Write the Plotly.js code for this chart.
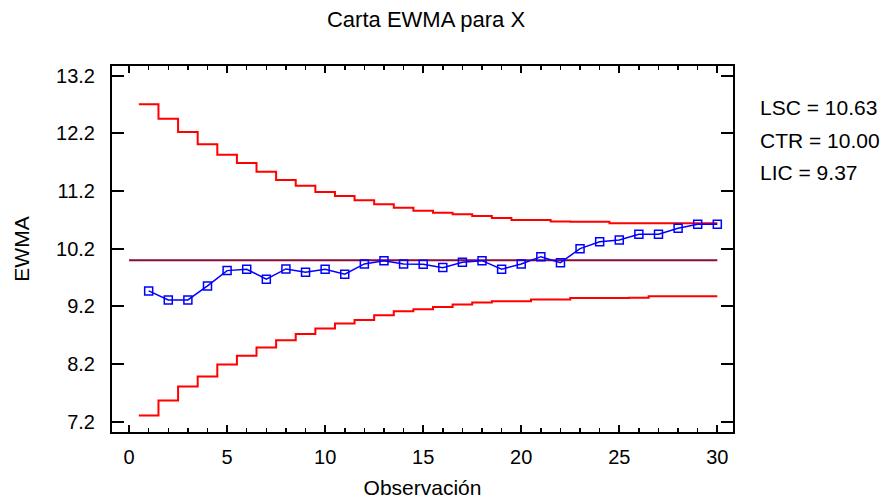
<!DOCTYPE html>
<html>
<head>
<meta charset="utf-8">
<script src="https://cdn.plot.ly/plotly-3.0.1.min.js"></script>
<style>
  html, body { margin: 0; padding: 0; background: #ffffff; }
  #chart { width: 885px; height: 499px; }
</style>
</head>
<body>
<div id="chart"></div>
<script>
// Observation numbers
const observations = [1,2,3,4,5,6,7,8,9,10,11,12,13,14,15,16,17,18,19,20,21,22,23,24,25,26,27,28,29,30];
// EWMA statistic for each observation
const ewmaValues = [9.468, 9.312, 9.312, 9.555, 9.820, 9.844, 9.671, 9.849, 9.792, 9.844,
                    9.757, 9.936, 9.993, 9.936, 9.931, 9.872, 9.965, 9.993, 9.844, 9.936,
                    10.062, 9.958, 10.201, 10.320, 10.350, 10.450, 10.450, 10.555, 10.624, 10.624];
// Upper control limit (LSC) for each observation
const uclValues = [12.705, 12.455, 12.225, 12.011, 11.831, 11.687, 11.536, 11.392, 11.294, 11.184,
                   11.115, 11.040, 10.971, 10.910, 10.860, 10.825, 10.798, 10.768, 10.733, 10.700,
                   10.698, 10.670, 10.668, 10.666, 10.643, 10.642, 10.641, 10.640, 10.640, 10.640];
// Lower control limit (LIC) for each observation
const lclValues = [7.305, 7.565, 7.808, 7.982, 8.190, 8.341, 8.484, 8.613, 8.722, 8.814,
                   8.901, 8.965, 9.046, 9.116, 9.150, 9.190, 9.230, 9.265, 9.289, 9.290,
                   9.317, 9.318, 9.346, 9.347, 9.347, 9.348, 9.376, 9.377, 9.377, 9.377];
// Centre line
const centerValue = 10.00;
const centerStart = 0;
// Text shown at the right of the chart
const limitLabels = ['LSC = 10.63', 'CTR = 10.00', 'LIC = 9.37'];
const yTickValues = [7.2, 8.2, 9.2, 10.2, 11.2, 12.2, 13.2];
const xTickValues = [0, 5, 10, 15, 20, 25, 30];

// step edges: each limit holds from obs-0.5 to obs+0.5, last one ends at the last observation
const lastObs = observations[observations.length - 1];
const stepX = observations.map(o => o - 0.5).concat([lastObs]);
const stepUcl = uclValues.concat([uclValues[uclValues.length - 1]]);
const stepLcl = lclValues.concat([lclValues[lclValues.length - 1]]);

const FONT = 'Liberation Sans, Arial, sans-serif';

const traces = [
  { x: stepX, y: stepUcl, type: 'scatter', mode: 'lines', line: { color: '#ff0000', width: 2, shape: 'hv' }, hoverinfo: 'skip' },
  { x: stepX, y: stepLcl, type: 'scatter', mode: 'lines', line: { color: '#ff0000', width: 2, shape: 'hv' }, hoverinfo: 'skip' },
  { x: [centerStart, lastObs], y: [centerValue, centerValue], type: 'scatter', mode: 'lines', line: { color: '#8b0a3c', width: 2 }, hoverinfo: 'skip' },
  { x: observations, y: ewmaValues, type: 'scatter', mode: 'lines+markers',
    line: { color: '#0000ff', width: 1.5 },
    marker: { symbol: 'square-open', size: 8, color: '#0000ff', line: { width: 1.5, color: '#0000ff' } } }
];

const labelY = [0.8876, 0.7967, 0.710];
const annotations = limitLabels.map((t, i) => ({
  text: t, xref: 'paper', yref: 'paper', x: 1.040, y: labelY[i],
  xanchor: 'left', yanchor: 'middle', showarrow: false,
  font: { family: FONT, size: 21, color: '#000000' }
}));

const layout = {
  width: 885, height: 499,
  margin: { l: 112, r: 152, t: 66, b: 67 },
  paper_bgcolor: '#ffffff', plot_bgcolor: '#ffffff',
  showlegend: false,
  font: { family: FONT, color: '#000000' },
  title: { text: 'Carta EWMA para X', x: 0.4814, xref: 'container', y: 0.962, yref: 'container', yanchor: 'middle',
           font: { family: FONT, size: 22, color: '#000000' } },
  xaxis: {
    range: [-0.87, 30.8], tickvals: xTickValues, ticks: 'inside', ticklen: 7, tickwidth: 2,
    minor: { dtick: 1, ticks: 'inside', ticklen: 4, tickwidth: 1.5, tickcolor: '#000000' },
    showline: true, linecolor: '#000000', linewidth: 2, mirror: 'ticks',
    showgrid: false, zeroline: false, tickcolor: '#000000',
    ticklabelstandoff: 6,
    tickfont: { family: FONT, size: 20 },
    title: { text: 'Observación', font: { family: FONT, size: 21 }, standoff: 14 }
  },
  yaxis: {
    range: [7.02, 13.37], tickvals: yTickValues, ticktext: yTickValues.map(v => v.toFixed(1)),
    ticks: 'inside', ticklen: 12, tickwidth: 2,
    showline: true, linecolor: '#000000', linewidth: 2, mirror: 'ticks',
    showgrid: false, zeroline: false, tickcolor: '#000000',
    ticklabelstandoff: 11,
    tickfont: { family: FONT, size: 20 },
    title: { text: 'EWMA', font: { family: FONT, size: 21 }, standoff: 21 }
  },
  annotations: annotations
};

Plotly.newPlot('chart', traces, layout, { staticPlot: true, displayModeBar: false });
</script>
</body>
</html>
